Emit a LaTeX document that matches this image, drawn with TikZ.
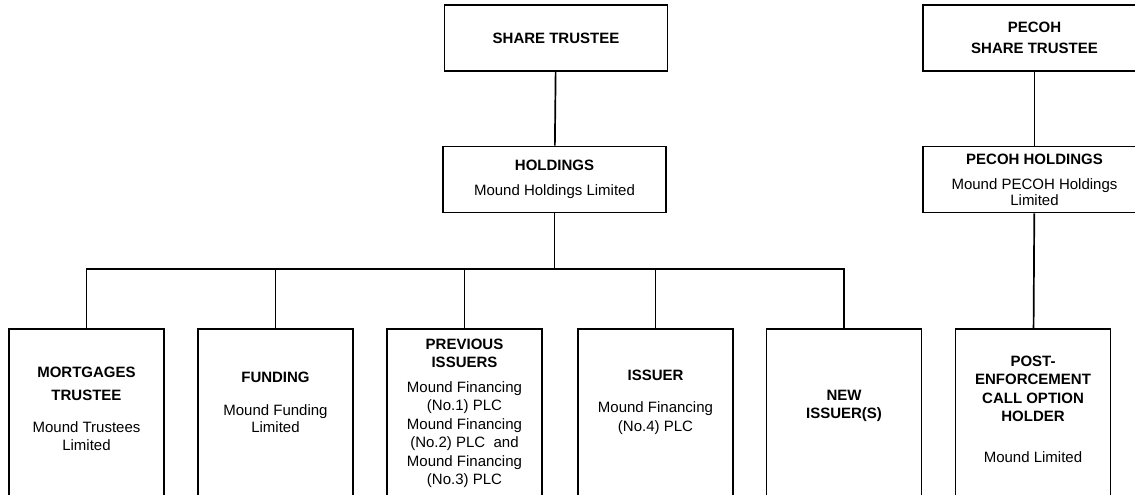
\documentclass[tikz,border=0pt]{standalone}
\usepackage{fontspec}
\setmainfont{Liberation Sans}
\usetikzlibrary{positioning}
\newcommand{\chartfont}{\fontsize{15}{18.5}\selectfont}
\tikzset{
    link/.style={line width=1.7pt},
    entity/.style={draw, rectangle, line width=1.7pt, minimum width=223pt, minimum height=66pt, align=center, inner sep=0pt, font=\chartfont},
    lowbox/.style={draw, rectangle, line width=1.7pt, minimum width=155pt, minimum height=180pt, anchor=north},
    boxtext/.style={anchor=north, align=center, inner sep=0pt, font=\chartfont},
}

\begin{document}
\begin{tikzpicture}[x=1pt, y=-1pt]
    \useasboundingbox (0,0) rectangle (1135,495);
    \clip (0,0) rectangle (1135,495);

    % Top row
    \node[entity] (sharetrustee) at (556,38) {\textbf{SHARE TRUSTEE}};
    \node[entity] (holdings) at (554.5,179.5) {\textbf{HOLDINGS}\\[6.5pt]Mound Holdings Limited};
    \node[entity] (pecohtrustee) at (1034.5,38) {\textbf{PECOH}\\[2.5pt]\textbf{SHARE TRUSTEE}};
    \node[entity] (pecohholdings) at (1034.5,179.5) {\textbf{PECOH HOLDINGS}\\[6.5pt]Mound PECOH Holdings\\[-2.5pt]Limited};

    % Bottom row
    \node[lowbox] (mortgages) at (86.5,328) {};
    \node[lowbox] (funding) at (275.5,328) {};
    \node[lowbox] (previous) at (464.5,328) {};
    \node[lowbox] (issuer) at (655.5,328) {};
    \node[lowbox] (newissuer) at (844,328) {};
    \node[lowbox] (postenf) at (1033,328) {};

    \node[boxtext, below=38.5pt of mortgages.north] (mortgagestext) {\textbf{MORTGAGES}\\[4.5pt]\textbf{TRUSTEE}\\[13.5pt]Mound Trustees\\Limited};
    \node[boxtext, below=43.5pt of funding.north] (fundingtext) {\textbf{FUNDING}\\[14.8pt]Mound Funding\\[-1.5pt]Limited};
    \node[boxtext, below=10.5pt of previous.north] (previoustext) {\textbf{PREVIOUS}\\\textbf{ISSUERS}\\[6pt]Mound Financing\\(No.1) PLC\\Mound Financing\\(No.2) PLC\ \ and\\Mound Financing\\(No.3) PLC};
    \node[boxtext, below=41.5pt of issuer.north] (issuertext) {\textbf{ISSUER}\\[14pt]Mound Financing\\(No.4) PLC};
    \node[boxtext, below=61.5pt of newissuer.north] (newissuertext) {\textbf{NEW}\\\textbf{ISSUER(S)}};
    \node[boxtext, below=27.5pt of postenf.north] (postenftext) {\textbf{POST-}\\\textbf{ENFORCEMENT}\\\textbf{CALL OPTION}\\\textbf{HOLDER}\\[22.5pt]Mound Limited};

    % Connectors
    \coordinate (bus) at (554.5,269);
    \draw[link] (sharetrustee) -- (holdings);
    \draw[link] (holdings) -- (bus);
    \draw[link] (mortgages.north) |- (bus) -| (newissuer.north);
    \foreach \n in {funding, previous, issuer}
        \draw[link] (\n.north) -- (\n.north |- bus);
    \draw[link] (pecohtrustee) -- (pecohholdings);
    \draw[link] (pecohholdings) -- (postenf);
\end{tikzpicture}
\end{document}
